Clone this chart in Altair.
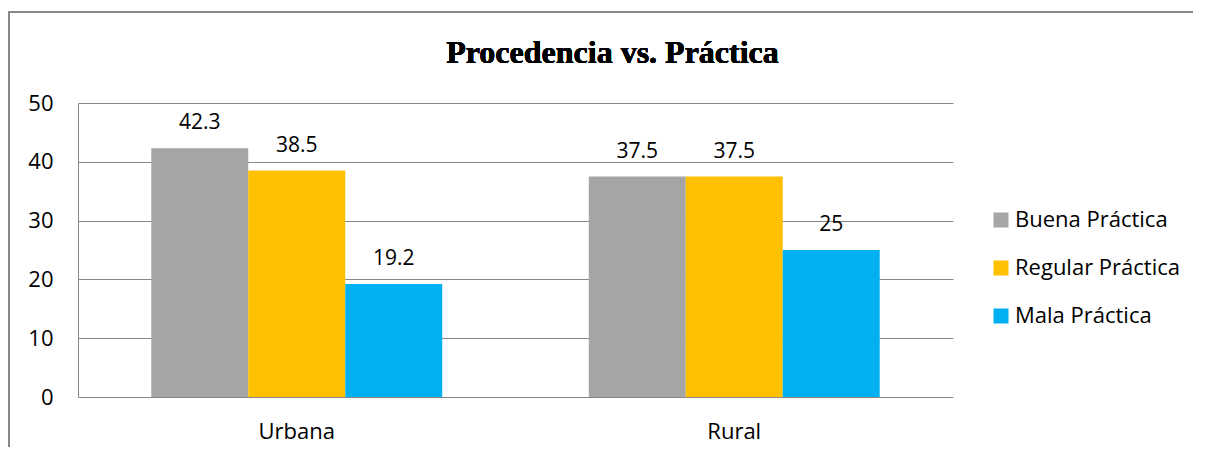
import altair as alt
import pandas as pd

categories = ["Urbana", "Rural"]
series = ["Buena Práctica", "Regular Práctica", "Mala Práctica"]
buena = [42.3, 37.5]
regular = [38.5, 37.5]
mala = [19.2, 25]
labels_buena = ["42.3", "37.5"]
labels_regular = ["38.5", "37.5"]
labels_mala = ["19.2", "25"]
colors = ["#A5A5A5", "#FFC000", "#00B0F0"]
title_text = "Procedencia vs. Práctica"

rows = []
for i, c in enumerate(categories):
    for s, vals, labs in zip(series, [buena, regular, mala], [labels_buena, labels_regular, labels_mala]):
        rows.append({"cat": c, "serie": s, "valor": vals[i], "etiqueta": labs[i]})
df = pd.DataFrame(rows)

FONT = "Open Sans"

x = alt.X("cat:N", sort=categories, title=None,
          scale=alt.Scale(paddingInner=0.335, paddingOuter=0.1675),
          axis=alt.Axis(labelAngle=0, labelFontSize=22, labelFont=FONT, labelColor="#000000",
                        ticks=False, domain=False, labelPadding=24))
xo = alt.XOffset("serie:N", sort=series, scale=alt.Scale(paddingInner=0, paddingOuter=0))
y = alt.Y("valor:Q", title=None,
          scale=alt.Scale(domain=[0, 50], nice=False),
          axis=alt.Axis(values=[0, 10, 20, 30, 40, 50], labelFontSize=22, labelFont=FONT,
                        labelColor="#000000", ticks=False, domain=True, domainColor="#888888",
                        gridColor="#888888", gridWidth=1, labelPadding=25))

bars = alt.Chart(df).mark_bar().encode(
    x=x, xOffset=xo, y=y,
    color=alt.Color("serie:N", sort=series,
                    scale=alt.Scale(domain=series, range=colors),
                    legend=alt.Legend(title=None, orient="none", legendX=912, legendY=106,
                                      symbolType="square", symbolSize=225, symbolStrokeWidth=0,
                                      labelFontSize=22, labelFont=FONT, labelColor="#000000",
                                      labelLimit=400, rowPadding=26, labelOffset=3)),
)

text = alt.Chart(df).mark_text(baseline="alphabetic", dy=-19, fontSize=21, font=FONT, color="#000000").encode(
    x=alt.X("cat:N", sort=categories), xOffset=alt.XOffset("serie:N", sort=series), y="valor:Q",
    text="etiqueta:N",
)

frame = alt.Chart(df).mark_rect(fill=None, stroke="#888888", strokeWidth=1.5, clip=False).encode(
    x=alt.value(-69), x2=alt.value(1150), y=alt.value(-91), y2=alt.value(380)
)

title = alt.Chart(df).mark_text(font="Liberation Serif", fontSize=32, fontWeight="bold",
                                color="#000000", align="center", baseline="alphabetic").encode(
    x=alt.value(534.5), y=alt.value(-40), text=alt.value(title_text)
)

chart = alt.layer(frame, bars, text, title).properties(
    width=875, height=294,
    autosize=alt.AutoSizeParams(type="none"),
    padding={"left": 70, "top": 95, "right": 240, "bottom": 50},
).configure_view(stroke=None)

chart.save("out.html", embed_options={"renderer": "svg", "actions": False})
